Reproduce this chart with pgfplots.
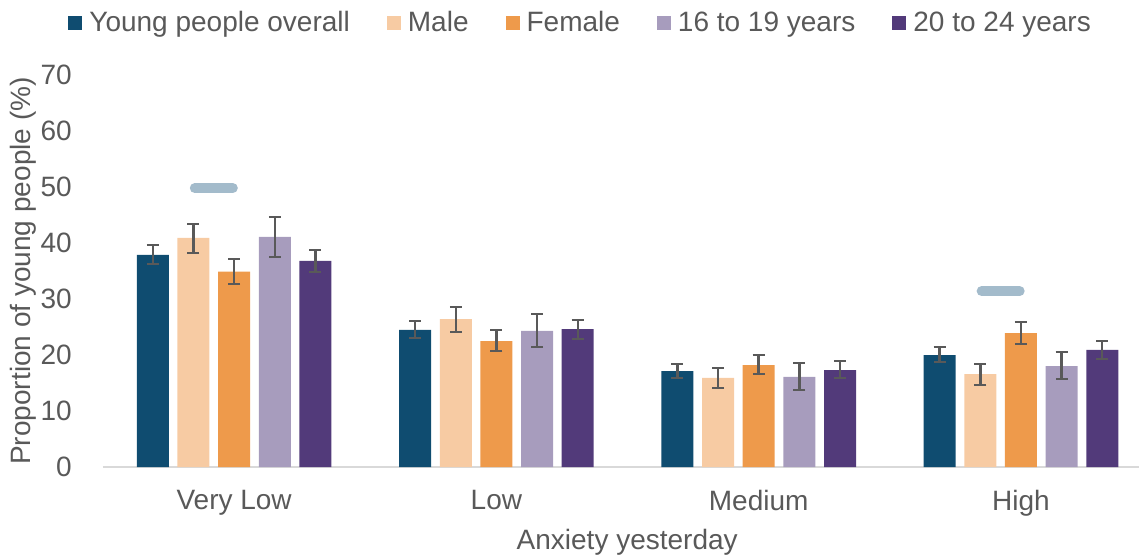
\documentclass[border=0pt]{standalone}
\usepackage{fontspec}
\setmainfont{Liberation Sans}
\usepackage{pgfplots}
\usepackage{pgfplotstable}
\pgfplotsset{compat=1.18}

\definecolor{cOverall}{HTML}{0F4C70}
\definecolor{cMale}{HTML}{F7CBA3}
\definecolor{cFemale}{HTML}{EE9A4B}
\definecolor{cYoung}{HTML}{A79CBD}
\definecolor{cOlder}{HTML}{523A7A}
\definecolor{cSig}{HTML}{A3BBCB}
\definecolor{txt}{HTML}{595959}
\definecolor{axisgrey}{HTML}{D9D9D9}

% x: 0 Very Low, 1 Low, 2 Medium, 3 High
\pgfplotstableread{
x y ep em
0 37.9 1.7 1.7
1 24.5 1.6 1.5
2 17.1 1.3 1.2
3 20.0 1.4 1.25
}\overall
\pgfplotstableread{
x y ep em
0 40.9 2.5 2.7
1 26.4 2.2 2.3
2 15.9 1.8 1.8
3 16.6 1.8 2.0
}\male
\pgfplotstableread{
x y ep em
0 34.9 2.2 2.2
1 22.5 2.0 1.8
2 18.2 1.8 1.6
3 23.9 2.0 1.9
}\female
\pgfplotstableread{
x y ep em
0 41.1 3.5 3.6
1 24.3 3.0 2.9
2 16.1 2.5 2.3
3 18.0 2.5 2.3
}\young
\pgfplotstableread{
x y ep em
0 36.8 1.95 2.0
1 24.6 1.7 1.7
2 17.3 1.6 1.4
3 20.9 1.6 1.6
}\older

\begin{document}
\begin{tikzpicture}[font=\fontsize{14}{17}\selectfont, text=txt]
\useasboundingbox (-51.5pt,-46pt) rectangle (519pt,233.5pt);
\begin{axis}[
    at={(0,0)}, anchor=south west,
    scale only axis, width=518pt, height=196pt,
    xmin=-0.5, xmax=3.45, ymin=0, ymax=70,
    ybar, bar width=0.122,
    xtick={0,1,2,3}, xticklabels={Very Low,Low,Medium,High},
    ytick={0,10,...,70},
    /pgf/number format/assume math mode=true,
    axis x line=bottom, axis y line=left,
    y axis line style={draw=none},
    x axis line style={draw=axisgrey, line width=1.3pt, -},
    tick style={draw=none},
    yticklabel style={xshift=-10pt},
    xticklabel style={yshift=-6pt},
    ylabel={Proportion of young people (\%)},
    ylabel style={at={(axis description cs:-0.077,0.5)}, anchor=center},
    xlabel={Anxiety yesterday},
    xlabel style={at={(axis description cs:0.506,-0.191)}, anchor=center},
    legend style={at={(0.462,1.132)}, anchor=center, draw=none, fill=none,
        legend columns=5, /tikz/every even column/.append style={column sep=16.5pt},
        font=\fontsize{14}{17}\selectfont},
    legend image code/.code={\fill[#1] (0pt,-3.5pt) rectangle (7pt,3.5pt); \path (8.5pt,0pt);},
    errs/.style={error bars/.cd, y dir=both, y explicit,
        error bar style={draw=txt, line width=1.2pt},
        error mark options={rotate=90, mark size=3pt, line width=1.2pt, draw=txt}},
]
\addplot[fill=cOverall, draw=none, bar shift=-0.31, errs]
    table[x=x, y=y, y error plus=ep, y error minus=em]{\overall};
\addplot[fill=cMale, draw=none, bar shift=-0.155, errs]
    table[x=x, y=y, y error plus=ep, y error minus=em]{\male};
\addplot[fill=cFemale, draw=none, bar shift=0, errs]
    table[x=x, y=y, y error plus=ep, y error minus=em]{\female};
\addplot[fill=cYoung, draw=none, bar shift=0.155, errs]
    table[x=x, y=y, y error plus=ep, y error minus=em]{\young};
\addplot[fill=cOlder, draw=none, bar shift=0.31, errs]
    table[x=x, y=y, y error plus=ep, y error minus=em]{\older};
\legend{Young people overall, Male, Female, 16 to 19 years, 20 to 24 years}

% significance markers (male vs female)
\addplot[sharp plot, forget plot, draw=cSig, line width=5pt, line cap=round]
    coordinates {(-0.150,49.8) (-0.005,49.8)};
\addplot[sharp plot, forget plot, draw=cSig, line width=5pt, line cap=round]
    coordinates {(2.850,31.4) (2.995,31.4)};
\end{axis}
\end{tikzpicture}
\end{document}
